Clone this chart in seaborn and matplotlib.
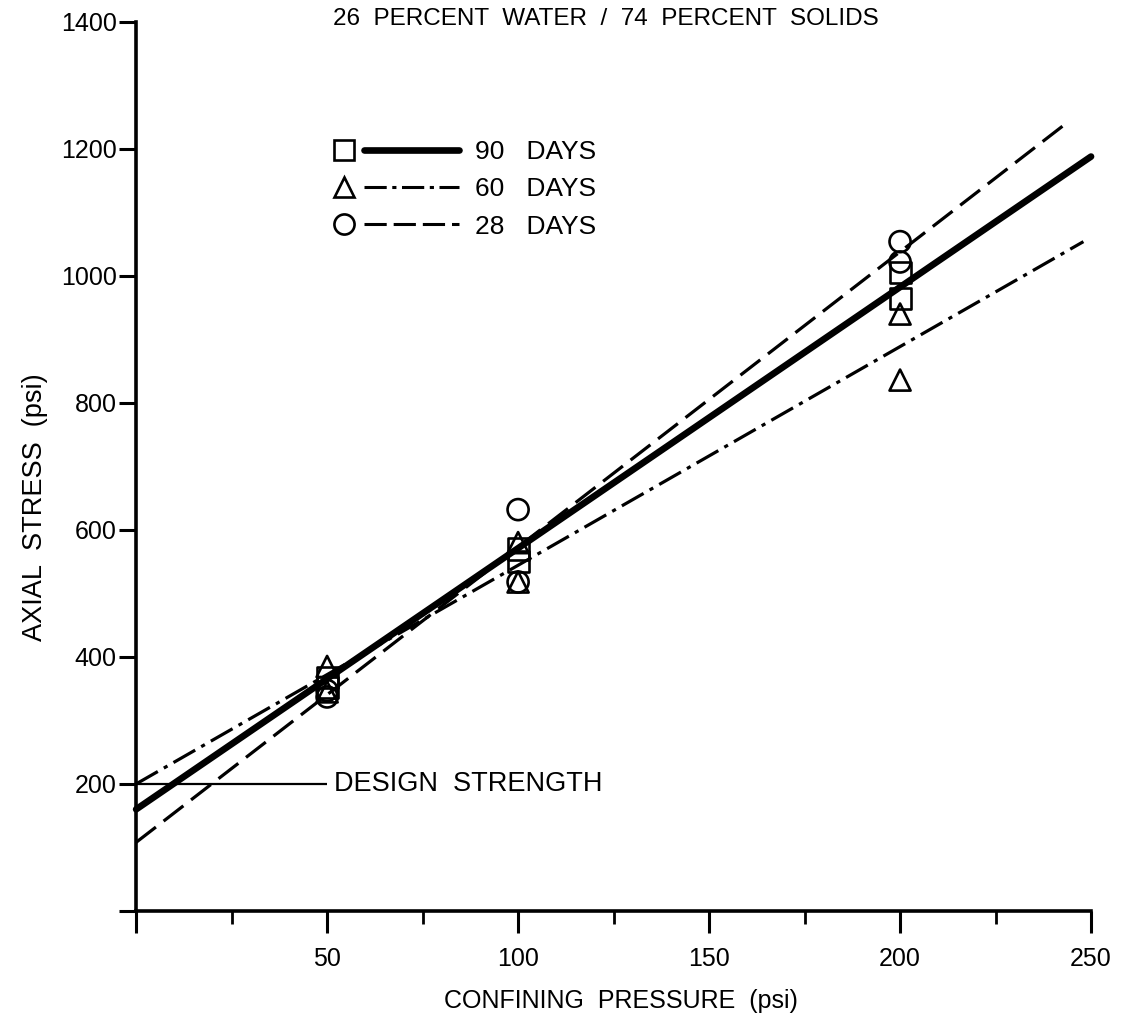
import matplotlib
matplotlib.use("Agg")
import matplotlib.pyplot as plt
import seaborn as sns
from matplotlib.lines import Line2D
from matplotlib.legend_handler import HandlerBase

# ---------------- data ----------------
pressure_pts = [50, 50, 100, 100, 200, 200]
stress_90 = [368, 352, 570, 550, 1005, 965]
stress_60 = [385, 345, 580, 518, 940, 836]
stress_28 = [337, 347, 632, 518, 1054, 1022]

fit_x_90 = [0, 250]
fit_y_90 = [160, 1188]
fit_x_60 = [0, 248]
fit_y_60 = [200, 1054]
fit_x_28 = [0, 243]
fit_y_28 = [108, 1238]

design_strength = 200
design_x = [0, 50]

x_ticks = [0, 50, 100, 150, 200, 250]
x_ticklabels = ["", "50", "100", "150", "200", "250"]
x_minor = [25, 75, 125, 175, 225]
y_ticks = [0, 200, 400, 600, 800, 1000, 1200, 1400]
y_ticklabels = ["", "200", "400", "600", "800", "1000", "1200", "1400"]

series_labels = ["90   DAYS", "60   DAYS", "28   DAYS"]
title_text = "26  PERCENT  WATER  /  74  PERCENT  SOLIDS"
xlabel_text = "CONFINING  PRESSURE  (psi)"
ylabel_text = "AXIAL  STRESS  (psi)"
design_text = "DESIGN  STRENGTH"

# ---------------- style ----------------
sns.set_style("white")
plt.rcParams["font.family"] = ["Liberation Sans", "DejaVu Sans"]
plt.rcParams["lines.scale_dashes"] = False
plt.rcParams["text.color"] = "black"
plt.rcParams["axes.labelcolor"] = "black"
plt.rcParams["xtick.color"] = "black"
plt.rcParams["ytick.color"] = "black"
FS = 18

DASH_60 = (0, (18, 5, 3, 5))
DASH_28 = (0, (18, 7))

fig = plt.figure(figsize=(11.35, 10.25), dpi=100)
ax = fig.add_axes([0.1031, 0.0865, 0.875, 0.8952])

# fitted lines
sns.lineplot(x=fit_x_28, y=fit_y_28, color="black", lw=2.3, ax=ax,
             linestyle=DASH_28)
sns.lineplot(x=fit_x_60, y=fit_y_60, color="black", lw=2.3, ax=ax,
             linestyle=DASH_60)
sns.lineplot(x=fit_x_90, y=fit_y_90, color="black", lw=4.8, ax=ax,
             solid_capstyle="round")

# data points
for vals, mk in [(stress_60, "^"), (stress_28, "o"), (stress_90, "s")]:
    sns.scatterplot(x=pressure_pts, y=vals, marker=mk, s=230,
                    facecolor="none", edgecolor="black", linewidth=1.9,
                    ax=ax, zorder=5)

# design strength
ax.hlines(design_strength, design_x[0], design_x[1], color="black", lw=1.6)
ax.text(design_x[1] + 1.8, design_strength, design_text, fontsize=19.5,
        va="center", ha="left", color="black")

# axes
ax.set_xlim(-5, 255)
ax.set_ylim(-40, 1405)
for s in ["top", "right"]:
    ax.spines[s].set_visible(False)
ax.spines["left"].set_position(("data", 0))
ax.spines["bottom"].set_position(("data", 0))
ax.spines["left"].set_bounds(0, 1400)
ax.spines["bottom"].set_bounds(0, 250)
for s in ["left", "bottom"]:
    ax.spines[s].set_linewidth(2.6)
    ax.spines[s].set_color("black")

ax.set_xticks(x_ticks)
ax.set_xticklabels(x_ticklabels, fontsize=FS)
ax.set_xticks(x_minor, minor=True)
ax.set_yticks(y_ticks)
ax.set_yticklabels(y_ticklabels, fontsize=FS)
ax.tick_params(axis="x", which="major", direction="out", length=16,
               width=2.2, pad=10, color="black", labelcolor="black",
               bottom=True)
ax.tick_params(axis="x", which="minor", direction="out", length=9,
               width=2.0, color="black", bottom=True)
ax.tick_params(axis="y", which="major", direction="out", length=12,
               width=2.2, pad=2, color="black", labelcolor="black",
               left=True)

ax.set_xlabel(xlabel_text, fontsize=FS, va="center", color="black")
ax.xaxis.set_label_coords(0.507, -0.07)
ax.set_ylabel(ylabel_text, fontsize=19.5, va="center", color="black")
ax.yaxis.set_label_coords(-0.083, 0.468)

fig.text(0.534, 0.981, title_text, fontsize=17.5, ha="center", va="center",
         color="black")


# legend with marker then line
class MarkerThenLine(HandlerBase):
    def create_artists(self, legend, orig_handle, xdescent, ydescent,
                       width, height, fontsize, trans):
        mk, ls, lw = orig_handle
        y = height / 2 - ydescent
        x0 = -xdescent
        m = Line2D([x0 + 7], [y], marker=mk, markersize=14.5,
                   markerfacecolor="none", markeredgecolor="black",
                   markeredgewidth=1.9, linestyle="none")
        ln = Line2D([x0 + 22, x0 + width], [y, y], color="black",
                    linestyle=ls, lw=lw, solid_capstyle="round")
        m.set_transform(trans)
        ln.set_transform(trans)
        return [m, ln]


handles = [("s", "-", 4.8), ("^", (0, (16, 4, 3, 4)), 2.2),
           ("o", (0, (16, 5)), 2.2)]
leg = ax.legend(handles, series_labels, loc="upper left",
                bbox_to_anchor=(0.205, 0.882), frameon=False, fontsize=19,
                handlelength=4.75, handletextpad=0.6, labelspacing=0.5,
                borderpad=0, handler_map={tuple: MarkerThenLine()})
for t in leg.get_texts():
    t.set_color("black")

fig.savefig("out.png", dpi=100, facecolor="white")
